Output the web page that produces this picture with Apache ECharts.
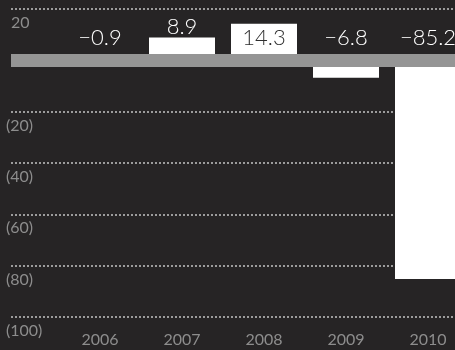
<!DOCTYPE html>
<html>
<head>
<meta charset="utf-8">
<script src="https://cdn.jsdelivr.net/npm/echarts@6/dist/echarts.min.js"></script>
<style>
  html, body { margin: 0; padding: 0; background: #262425; overflow: hidden; }
  #chart { width: 490px; height: 350px; }
</style>
</head>
<body>
<div id="chart"></div>
<script>
// Annual change, 2006-2010
const years = ['2006', '2007', '2008', '2009', '2010'];
const changes = [-0.9, 8.9, 14.3, -6.8, -85.2];

// Value axis range
const yMin = -100;
const yMax = 20;
const yStep = 20;

const fmtValue = v => (v < 0 ? '\u2212' + Math.abs(v).toFixed(1) : v.toFixed(1));

// Bars tall enough to hold their label get it inside in dark text
function labelFor(v) {
  if (v < 0) return { position: 'top', distance: 11, color: '#ffffff' };
  if (v > 12) return { position: 'insideTop', distance: 3, color: '#2e2e2e' };
  return { position: 'top', distance: 0, color: '#ffffff' };
}

const barData = changes.map(v => ({ value: v, label: labelFor(v) }));

const chart = echarts.init(document.getElementById('chart'));
chart.setOption({
  backgroundColor: '#262425',
  animation: false,
  grid: [
    // full-width frame for gridlines and the zero band (canvas is wider than the view)
    { left: 11, right: 35, top: 9, bottom: 33 },
    // bar plot; the last category runs past the visible edge
    { left: 59, right: 21, top: 9, bottom: 33 }
  ],
  xAxis: [
    {
      gridIndex: 0, type: 'category', data: [''], z: 5,
      axisLine: { show: true, onZero: true, lineStyle: { color: '#959595', width: 13, cap: 'butt' } },
      axisTick: { show: false }, axisLabel: { show: false }, splitLine: { show: false }
    },
    {
      gridIndex: 1, type: 'category', data: years,
      axisLine: { show: false }, axisTick: { show: false },
      axisLabel: { color: '#8d8d8d', fontFamily: 'Lato', fontSize: 16, margin: 15 }
    }
  ],
  yAxis: [
    {
      gridIndex: 0, type: 'value', min: yMin, max: yMax, interval: yStep,
      axisLine: { show: false }, axisTick: { show: false },
      splitLine: { show: true, lineStyle: { color: '#9c9c9c', width: 2, type: [2, 2] } },
      axisLabel: {
        color: '#8d8d8d', fontFamily: 'Lato', fontSize: 16,
        align: 'left', verticalAlign: 'top', margin: 5, padding: [6, 0, 0, 0],
        formatter: v => v === 0 ? '' : (v < 0 ? '(' + Math.abs(v) + ')' : '{p|' + v + '}'),
        rich: { p: { color: '#8d8d8d', fontFamily: 'Lato', fontSize: 16, padding: [0, 0, 0, 5] } }
      }
    },
    {
      gridIndex: 1, type: 'value', min: yMin, max: yMax, interval: yStep, show: false,
      splitLine: { show: false }
    }
  ],
  series: [
    {
      type: 'bar', xAxisIndex: 1, yAxisIndex: 1,
      data: barData, barWidth: 66,
      itemStyle: { color: '#ffffff' },
      label: {
        show: true, fontFamily: 'Lato', fontWeight: 300, fontSize: 22,
        formatter: p => fmtValue(p.value)
      }
    }
  ]
});
</script>
</body>
</html>
